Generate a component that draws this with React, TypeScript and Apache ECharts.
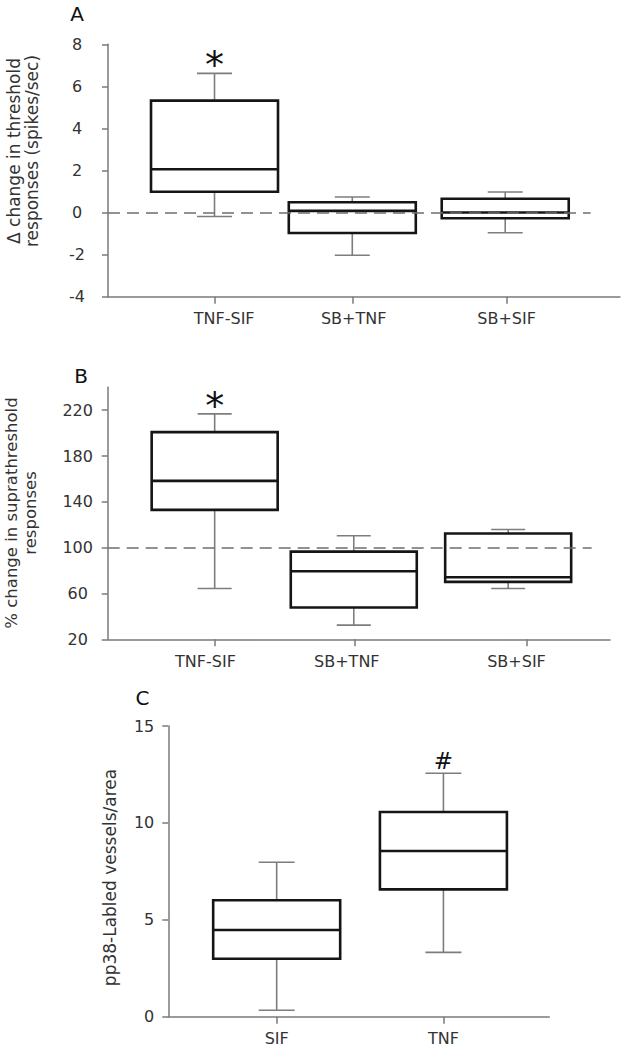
import React, { useEffect, useRef } from "react";
import * as echarts from "echarts";

// ---------- Panel A ----------
const groupsA = ["TNF-SIF", "SB+TNF", "SB+SIF"];
const boxPosA = [1, 2, 3.11];
const tickPosA = [1, 2, 3.12];
const labelPosA = [1.07, 2.01, 3.12];
const minA = [-0.19, -2.03, -0.96];
const q1A = [0.99, -0.97, -0.27];
const medA = [2.06, 0.08, 0.0];
const q3A = [5.32, 0.49, 0.66];
const maxA = [6.62, 0.74, 0.98];
const marksA = ["*", "", ""];
const refA = 0;

// ---------- Panel B ----------
const groupsB = ["TNF-SIF", "SB+TNF", "SB+SIF"];
const boxPosB = [1, 2, 3.11];
const tickPosB = [1, 2.01, 3.24];
const labelPosB = [0.934, 1.95, 3.17];
const minB = [64.3, 32.4, 64.3];
const q1B = [133.0, 47.8, 70.1];
const medB = [158.3, 79.4, 74.2];
const q3B = [200.9, 96.5, 112.4];
const maxB = [216.8, 110.4, 115.9];
const marksB = ["*", "", ""];
const refB = 100;
const yTicksB = [20, 60, 100, 140, 180, 220];

// ---------- Panel C ----------
const groupsC = ["SIF", "TNF"];
const boxPosC = [1, 2];
const tickPosC = [1, 2];
const labelPosC = [1, 2];
const minC = [0.33, 3.32];
const q1C = [2.99, 6.57];
const medC = [4.47, 8.55];
const q3C = [6.01, 10.56];
const maxC = [7.97, 12.56];
const marksC = ["", "#"];

const FONT = "DejaVu Sans";
const AXIS_COLOR = "#7a7a7a";
const TEXT_COLOR = "#333";

function rows(pos: number[], mn: number[], q1: number[], md: number[], q3: number[], mx: number[]) {
  return pos.map((p, i) => [p, mn[i], q1[i], md[i], q3[i], mx[i]]);
}

function nearestName(v: number, positions: number[], names: string[]) {
  let best = 0;
  let bd = Infinity;
  positions.forEach((p, i) => {
    const d = Math.abs(p - v);
    if (d < bd) {
      bd = d;
      best = i;
    }
  });
  return names[best];
}

function makeRenderItem(boxPx: number, capPx: number, marks: string[], markFont: number, markGap: number) {
  return (params: any, api: any) => {
    const x = api.value(0);
    const lo = api.coord([x, api.value(1)]);
    const q1 = api.coord([x, api.value(2)]);
    const med = api.coord([x, api.value(3)]);
    const q3 = api.coord([x, api.value(4)]);
    const hi = api.coord([x, api.value(5)]);
    const cx = lo[0];
    const half = boxPx / 2;
    const ch = capPx / 2;
    const whisker = { stroke: "#7d7d7d", lineWidth: 1.6 };
    const dark = { stroke: "#151515", lineWidth: 2.6, fill: "none" };
    const children: any[] = [
      { type: "line", shape: { x1: cx, y1: q3[1], x2: cx, y2: hi[1] }, style: whisker },
      { type: "line", shape: { x1: cx, y1: q1[1], x2: cx, y2: lo[1] }, style: whisker },
      { type: "line", shape: { x1: cx - ch, y1: hi[1], x2: cx + ch, y2: hi[1] }, style: whisker },
      { type: "line", shape: { x1: cx - ch, y1: lo[1], x2: cx + ch, y2: lo[1] }, style: whisker },
      { type: "rect", shape: { x: cx - half, y: q3[1], width: boxPx, height: q1[1] - q3[1] }, style: dark },
      { type: "line", shape: { x1: cx - half, y1: med[1], x2: cx + half, y2: med[1] }, style: { stroke: "#151515", lineWidth: 2.6 } },
    ];
    const m = marks[params.dataIndex];
    if (m) {
      children.push({
        type: "text",
        x: cx,
        y: hi[1] - markGap,
        style: {
          text: m,
          fontFamily: FONT,
          fontSize: markFont,
          fill: "#111",
          align: "center",
          verticalAlign: "middle",
        },
      });
    }
    return { type: "group", children };
  };
}

function xAxisCfg(grid: number, min: number, max: number, ticks: number[], labels: number[], names: string[]) {
  return {
    type: "value",
    gridIndex: grid,
    min,
    max,
    splitLine: { show: false },
    axisLine: { show: true, onZero: false, lineStyle: { color: AXIS_COLOR, width: 1.5 } },
    axisTick: { show: true, customValues: ticks, length: 7, lineStyle: { color: AXIS_COLOR, width: 1.5 } },
    axisLabel: {
      show: true,
      customValues: labels,
      formatter: (v: number) => nearestName(v, labels, names),
      fontFamily: FONT,
      fontSize: 16,
      color: TEXT_COLOR,
      margin: 14,
    },
  };
}

function yAxisCfg(grid: number, min: number, max: number, extra: any, align: string, margin: number) {
  return {
    type: "value",
    gridIndex: grid,
    min,
    max,
    ...extra,
    splitLine: { show: false },
    axisLine: { show: true, onZero: false, lineStyle: { color: AXIS_COLOR, width: 1.5 } },
    axisTick: { show: true, length: 6, lineStyle: { color: AXIS_COLOR, width: 1.5 }, ...(extra.tickValues ? { customValues: extra.tickValues } : {}) },
    axisLabel: {
      fontFamily: FONT,
      fontSize: 16,
      color: TEXT_COLOR,
      align,
      margin,
      ...(extra.tickValues ? { customValues: extra.tickValues } : {}),
    },
  };
}

function refLine(value: number, x0: number, x1: number) {
  return {
    symbol: "none",
    silent: true,
    label: { show: false },
    lineStyle: { type: [12, 7], color: "#6e6e6e", width: 1.6 },
    data: [[{ coord: [x0, value] }, { coord: [x1, value] }]],
  };
}

export default function App() {
  const ref = useRef<HTMLDivElement>(null);
  useEffect(() => {
    if (!ref.current) return;
    const chart = echarts.init(ref.current, null, { renderer: "svg" });
    const xMinA = 0.227, xMaxA = 3.943;
    const xMinB = 0.231, xMaxB = 3.842;
    const xMinC = 0.35, xMaxC = 2.635;
    const option: any = {
      animation: false,
      backgroundColor: "#ffffff",
      grid: [
        { left: 108, top: 44.3, width: 512, height: 252.4, outerBoundsMode: "none" },
        { left: 107.7, top: 387.3, width: 502.3, height: 252, outerBoundsMode: "none" },
        { left: 168.3, top: 726, width: 381, height: 290.7, outerBoundsMode: "none" },
      ],
      xAxis: [
        xAxisCfg(0, xMinA, xMaxA, tickPosA, labelPosA, groupsA),
        xAxisCfg(1, xMinB, xMaxB, tickPosB, labelPosB, groupsB),
        xAxisCfg(2, xMinC, xMaxC, tickPosC, labelPosC, groupsC),
      ],
      yAxis: [
        yAxisCfg(0, -4, 8, { interval: 2 }, "center", 31),
        yAxisCfg(1, 20, 240, { tickValues: yTicksB }, "center", 30),
        yAxisCfg(2, 0, 15, { interval: 5 }, "right", 14),
      ],
      series: [
        {
          type: "custom",
          xAxisIndex: 0,
          yAxisIndex: 0,
          renderItem: makeRenderItem(127, 35, marksA, 38, 8),
          encode: { x: 0, y: [1, 2, 3, 4, 5] },
          data: rows(boxPosA, minA, q1A, medA, q3A, maxA),
          markLine: refLine(refA, xMinA, 3.73),
          z: 2,
        },
        {
          type: "custom",
          xAxisIndex: 1,
          yAxisIndex: 1,
          renderItem: makeRenderItem(126, 34, marksB, 38, 8),
          encode: { x: 0, y: [1, 2, 3, 4, 5] },
          data: rows(boxPosB, minB, q1B, medB, q3B, maxB),
          markLine: refLine(refB, xMinB, 3.71),
          z: 2,
        },
        {
          type: "custom",
          xAxisIndex: 2,
          yAxisIndex: 2,
          renderItem: makeRenderItem(127, 36, marksC, 23, 12),
          encode: { x: 0, y: [1, 2, 3, 4, 5] },
          data: rows(boxPosC, minC, q1C, medC, q3C, maxC),
          z: 2,
        },
      ],
      graphic: [
        { type: "text", x: 77, y: 14, style: { text: "A", fontFamily: FONT, fontSize: 20, fill: "#111", align: "center", verticalAlign: "middle" } },
        { type: "text", x: 81, y: 376, style: { text: "B", fontFamily: FONT, fontSize: 20, fill: "#111", align: "center", verticalAlign: "middle" } },
        { type: "text", x: 142.5, y: 698, style: { text: "C", fontFamily: FONT, fontSize: 20, fill: "#111", align: "center", verticalAlign: "middle" } },
        {
          type: "text", x: 23, y: 151, rotation: Math.PI / 2,
          style: { text: "Δ change in threshold\nresponses (spikes/sec)", fontFamily: FONT, fontSize: 17, lineHeight: 18, fill: TEXT_COLOR, align: "center", verticalAlign: "middle" },
        },
        {
          type: "text", x: 21, y: 513, rotation: Math.PI / 2,
          style: { text: "% change in suprathreshold\nresponses", fontFamily: FONT, fontSize: 16.5, lineHeight: 19, fill: TEXT_COLOR, align: "center", verticalAlign: "middle" },
        },
        {
          type: "text", x: 110, y: 877.5, rotation: Math.PI / 2,
          style: { text: "pp38-Labled vessels/area", fontFamily: FONT, fontSize: 17, fill: TEXT_COLOR, align: "center", verticalAlign: "middle" },
        },
      ],
    };
    chart.setOption(option);
    return () => chart.dispose();
  }, []);
  return (
    <div
      ref={ref}
      style={{ position: "absolute", left: 0, top: 0, width: 621, height: 1050, background: "#fff" }}
    />
  );
}
